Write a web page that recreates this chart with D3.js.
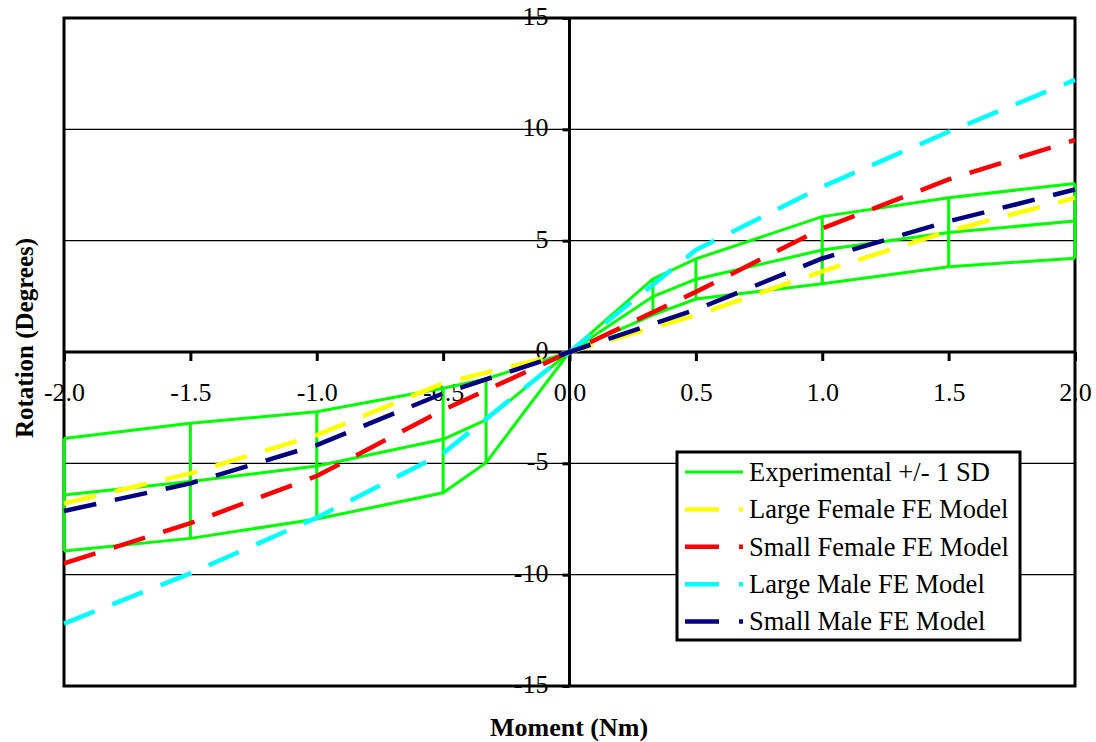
<!DOCTYPE html>
<html>
<head>
<meta charset="utf-8">
<script src="https://cdn.jsdelivr.net/npm/d3@7"></script>
<style>
  html, body { margin: 0; padding: 0; background: #fff; }
  svg { display: block; }
  svg text { font-family: "Liberation Serif", "Times New Roman", Times, "DejaVu Serif", serif !important; fill: #000; }
</style>
</head>
<body>
<svg id="chart" width="1096" height="742"></svg>
<script>
// ---------- DATA ----------
const expX     = [-2, -1.5, -1, -0.5, -0.33, 0, 0.33, 0.5, 1, 1.5, 2];
const expMean  = [-6.42, -5.82, -5.12, -3.92, -3.05, 0, 2.49, 3.27, 4.58, 5.37, 5.88];
const expHigh  = [-3.88, -3.20, -2.68, -1.63, -1.21, 0, 3.28, 4.18, 6.08, 6.93, 7.57];
const expLow   = [-8.94, -8.37, -7.50, -6.32, -4.97, 0, 1.67, 2.38, 3.07, 3.83, 4.21];

const modelX       = [-2, -1.5, -1, -0.5, 0, 0.5, 1, 1.5, 2];
const largeFemale  = [-6.8, -5.45, -3.73, -1.41, 0, 1.65, 3.62, 5.43, 6.92];
const smallFemale  = [-9.49, -7.69, -5.57, -2.6, 0, 2.70, 5.55, 7.75, 9.52];
const largeMale    = [-12.2, -9.94, -7.44, -4.55, 0, 4.58, 7.42, 9.89, 12.22];
const smallMale    = [-7.14, -5.9, -4.18, -1.86, 0, 1.9, 4.2, 5.87, 7.3];

const seriesNames  = ["Experimental +/- 1 SD", "Large Female FE Model", "Small Female FE Model", "Large Male FE Model", "Small Male FE Model"];
const seriesColors = ["#00FF00", "#FFFF00", "#FF0000", "#00FFFF", "#000080"];

const xTicks = [-2, -1.5, -1, -0.5, 0, 0.5, 1, 1.5, 2];
const yTicks = [-15, -10, -5, 0, 5, 10, 15];
const gridY  = [-10, -5, 5, 10];

// ---------- LAYOUT ----------
const FONT = "'Liberation Serif', 'Times New Roman', Times, 'DejaVu Serif', serif";
const svg = d3.select("#chart");
const L = 64, R = 1075, T = 18, B = 686;
const x = d3.scaleLinear().domain([-2, 2]).range([L, R]);
const y = d3.scaleLinear().domain([-15, 15]).range([B, T]);

svg.append("rect").attr("width", 1096).attr("height", 742).attr("fill", "#fff");

// gridlines
svg.append("g").selectAll("line").data(gridY).join("line")
  .attr("x1", L).attr("x2", R)
  .attr("y1", d => y(d)).attr("y2", d => y(d))
  .attr("stroke", "#000").attr("stroke-width", 1.4);

// plot border
svg.append("rect").attr("x", L).attr("y", T).attr("width", R - L).attr("height", B - T)
  .attr("fill", "none").attr("stroke", "#000").attr("stroke-width", 3);

// x axis at y=0
const xAxis = d3.axisBottom(x).tickValues(xTicks).tickSize(9).tickFormat(d => d.toFixed(1));
const gx = svg.append("g").attr("transform", `translate(0,${y(0)})`).call(xAxis)
  .attr("font-family", FONT).attr("font-size", 26);
gx.select(".domain").remove();
gx.selectAll(".tick line").attr("stroke", "#000").attr("stroke-width", 3);
gx.selectAll(".tick text").attr("y", 40).attr("dy", "0.35em").attr("fill", "#000")
  .style("font-size", "26px");

// y axis at x=0
const yAxis = d3.axisLeft(y).tickValues(yTicks).tickSize(7).tickPadding(14).tickFormat(d => String(d));
const gy = svg.append("g").attr("transform", `translate(${x(0)},0)`).call(yAxis)
  .attr("font-family", FONT).attr("font-size", 26);
gy.select(".domain").remove();
gy.selectAll(".tick line").attr("stroke", "#000").attr("stroke-width", 3);
gy.selectAll(".tick text").attr("dy", "0.25em").attr("fill", "#000")
  .style("font-size", "26px");

// axis lines
svg.append("line").attr("x1", L).attr("x2", R).attr("y1", y(0)).attr("y2", y(0))
  .attr("stroke", "#000").attr("stroke-width", 3);
svg.append("line").attr("x1", x(0)).attr("x2", x(0)).attr("y1", T).attr("y2", B)
  .attr("stroke", "#000").attr("stroke-width", 3);

// ---------- EXPERIMENTAL ----------
const line = d3.line().x(d => x(d[0])).y(d => y(d[1]));
const gExp = svg.append("g");
[expHigh, expMean, expLow].forEach(arr => {
  gExp.append("path").attr("d", line(expX.map((v, i) => [v, arr[i]])))
    .attr("fill", "none").attr("stroke", seriesColors[0]).attr("stroke-width", 3)
    .attr("stroke-linejoin", "miter");
});
gExp.selectAll("line.bar").data(expX.map((v, i) => i).filter(i => expX[i] !== 0)).join("line")
  .attr("class", "bar")
  .attr("x1", i => x(expX[i])).attr("x2", i => x(expX[i]))
  .attr("y1", i => y(expHigh[i])).attr("y2", i => y(expLow[i]))
  .attr("stroke", seriesColors[0]).attr("stroke-width", 3);

// ---------- MODELS ----------
const models = [largeFemale, smallFemale, largeMale, smallMale];
models.forEach((arr, k) => {
  svg.append("path").attr("d", line(modelX.map((v, i) => [v, arr[i]])))
    .attr("fill", "none").attr("stroke", seriesColors[k + 1]).attr("stroke-width", 4.5)
    .attr("stroke-dasharray", "33,19");
});

// ---------- LEGEND ----------
const lg = svg.append("g").attr("font-family", FONT);
lg.append("rect").attr("x", 677).attr("y", 452).attr("width", 343).attr("height", 188)
  .attr("fill", "#fff").attr("stroke", "#000").attr("stroke-width", 3);
seriesNames.forEach((name, i) => {
  const ry = 472 + i * 37.4;
  lg.append("line").attr("x1", 685).attr("x2", 743).attr("y1", ry).attr("y2", ry)
    .attr("stroke", seriesColors[i]).attr("stroke-width", i === 0 ? 3 : 4.5)
    .attr("stroke-dasharray", i === 0 ? null : "34,20");
  lg.append("text").attr("x", 749).attr("y", ry).attr("dy", "0.33em")
    .style("font-size", "26.5px").text(name);
});

// ---------- TITLES ----------
svg.append("text").attr("x", 569).attr("y", 727).attr("dy", "0.35em")
  .attr("text-anchor", "middle").style("font-size", "26px").style("font-weight", "bold")
  .text("Moment (Nm)");
svg.append("text").attr("transform", "translate(24,338) rotate(-90)").attr("dy", "0.35em")
  .attr("text-anchor", "middle").style("font-size", "25px").style("font-weight", "bold")
  .text("Rotation (Degrees)");
</script>
</body>
</html>
